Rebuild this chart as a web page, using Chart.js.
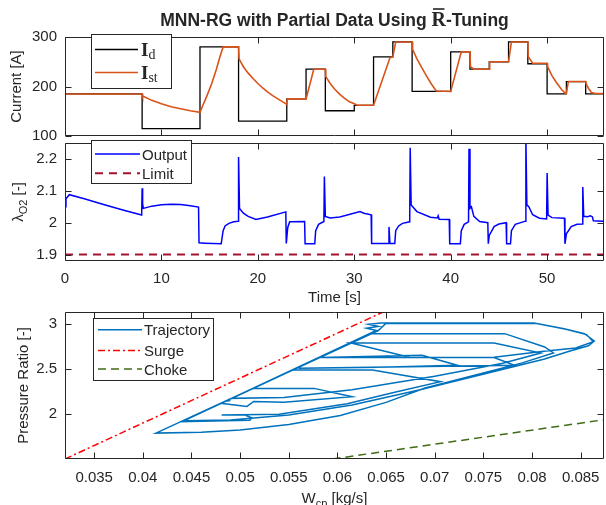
<!DOCTYPE html>
<html>
<head>
<meta charset="utf-8">
<script src="https://cdn.jsdelivr.net/npm/chart.js@4.4.1/dist/chart.umd.min.js"></script>
<style>
  html, body { margin: 0; padding: 0; background: #fff; }
  #wrap { position: relative; width: 606px; height: 505px; overflow: hidden; }
  canvas { position: absolute; left: 0; }
</style>
</head>
<body>
<div id="wrap">
  <canvas id="cur" width="606" height="140" style="top:0px"></canvas>
  <canvas id="lam" width="606" height="167" style="top:138px"></canvas>
  <canvas id="map" width="606" height="200" style="top:305px"></canvas>
</div>
<script>
// ---- current demand / stack current (top panel)
const timeD    = [0, 8, 14, 18, 23, 25, 27, 30, 32, 34, 36, 40, 42, 44, 46, 48, 50, 52, 54, 56];
const currentD = [185, 115, 280, 130, 175, 235, 151, 162, 260, 290, 190, 270, 235, 250, 290, 246, 185, 210, 185, 185];

const timeSt = [0, 8, 8.05, 9, 10, 11, 12, 13, 14,
  14.3, 14.7, 15.2, 15.7, 16.1, 16.4,
  18, 18.05, 18.5, 19, 19.5, 20, 20.5, 21, 21.5, 22, 22.5, 23,
  23.05, 25, 25.8, 27,
  27.05, 27.5, 28, 28.5, 29, 29.5, 30, 30.3, 32,
  33.7, 34, 34.3, 36,
  36.05, 36.5, 37, 37.5, 38, 38.5, 40,
  41.1, 42, 42.05, 42.4, 44,
  44.05, 46, 46.3, 48,
  48.05, 48.5, 50,
  50.05, 50.5, 51, 51.5, 51.9, 52,
  52.2, 54,
  54.05, 54.3, 54.6, 55, 56];
const currentSt = [185, 185, 181, 172, 165, 159, 155, 151, 148,
  162, 180, 205, 235, 262, 280,
  280, 256, 240, 227, 216, 206, 197, 189, 182, 176, 170, 164,
  175, 175, 235, 235,
  220, 206, 194, 184, 176, 169, 165, 162, 162,
  258, 260, 290, 290,
  275, 256, 238, 221, 205, 191, 190,
  270, 270, 240, 235, 235,
  250, 250, 290, 290,
  260, 247, 247,
  240, 222, 207, 194, 186, 186,
  210, 210,
  205, 196, 188, 186, 186];

// ---- oxygen excess ratio (middle panel)
const timeL = [
  0, 0.1, 0.45, 2, 4, 6, 7.95, 8.0,
  8.05, 8.12, 9, 10, 11, 12, 13, 13.85,
  13.9, 14.5, 16.2, 16.4, 16.6, 17, 17.5, 17.95,
  18.0, 18.1, 18.5, 19, 19.8, 21, 22.9, 22.95,
  23.1, 23.3, 24.85, 24.9, 25.9, 26.0, 26.3, 26.85,
  26.9, 27.0, 27.5, 28.5, 30.6, 31, 31.75, 31.8,
  33.5, 33.6, 33.7, 34.2, 34.3, 34.6, 35, 35.75,
  35.8, 35.9, 36.5, 37.9, 38.6, 38.7, 38.8, 39.85,
  39.9, 41.0, 41.1, 41.4, 41.85, 41.9, 42.0, 42.15,
  42.4, 43, 43.85, 43.9, 44.0, 44.5, 45, 45.75,
  45.8, 46.2, 46.3, 46.7, 47.75, 47.8, 47.9, 48.1,
  48.5, 49.2, 49.95, 50.0, 50.1, 50.5, 51.8, 51.85,
  52.0, 52.5, 53.1, 53.65, 53.7, 53.8, 54.2, 54.5,
  54.7, 54.8, 55.7, 56];
const lambdaOut = [
  2.050, 2.075, 2.088, 2.075, 2.057, 2.040, 2.024, 2.108,
  2.060, 2.045, 2.052, 2.056, 2.058, 2.057, 2.053, 2.049,
  1.937, 1.936, 1.934, 1.975, 1.990, 1.998, 2.003, 2.005,
  2.206, 2.045, 2.030, 2.020, 2.010, 2.018, 2.034, 1.935,
  1.985, 2.003, 2.004, 1.934, 1.934, 1.975, 1.995, 2.004,
  2.145, 2.020, 2.015, 2.018, 2.035, 2.030, 2.025, 1.935,
  1.935, 1.987, 1.935, 1.935, 1.975, 1.990, 1.998, 2.003,
  2.235, 2.056, 2.035, 2.017, 2.015, 2.022, 2.011, 2.010,
  1.934, 1.934, 1.975, 1.995, 2.003, 2.232, 2.045, 2.050,
  2.020, 2.004, 2.000, 1.934, 1.960, 1.988, 1.996, 2.000,
  1.934, 1.934, 1.975, 1.995, 2.005, 2.260, 2.056, 2.050,
  2.025, 2.014, 2.012, 2.156, 2.024, 2.016, 2.014, 1.934,
  1.965, 1.988, 1.995, 1.996, 2.112, 2.020, 2.019, 2.022,
  2.018, 2.006, 2.005, 2.004];
const limitT = [0, 56];
const limitVal = [1.9, 1.9];

// ---- compressor map (bottom panel)
const trajW = [
  0.0483, 0.04135, 0.0460, 0.0500, 0.0550, 0.0603, 0.0650, 0.0690,
  0.0740, 0.0790, 0.0822, 0.0813, 0.0772, 0.0635, 0.0439, 0.0510,
  0.0512, 0.0505, 0.0481, 0.0540, 0.0610, 0.0660, 0.0706, 0.0636,
  0.0554, 0.0442, 0.0490, 0.0550, 0.0615, 0.0685, 0.0760, 0.0812,
  0.0840, 0.0858, 0.0864, 0.0854, 0.0833, 0.0802, 0.0645, 0.0632,
  0.0642, 0.0630, 0.0640, 0.0491, 0.0545, 0.0615, 0.0700, 0.0770,
  0.0809, 0.0761, 0.0614, 0.0675, 0.0582, 0.0687, 0.0723, 0.0644,
  0.0560, 0.0782, 0.0761, 0.0584, 0.0761, 0.0812, 0.0845, 0.0863,
  0.0856, 0.0835, 0.0805, 0.0650, 0.0642, 0.0480, 0.0507, 0.0514,
  0.0545, 0.0615, 0.0576, 0.0513, 0.0484, 0.0490];
const trajPR = [
  2.135, 1.788, 1.798, 1.822, 1.885, 1.985, 2.130, 2.290,
  2.430, 2.570, 2.680, 2.747, 2.895, 2.895, 1.915, 1.930,
  1.958, 1.990, 1.990, 1.998, 2.115, 2.245, 2.360, 2.490,
  2.490, 1.925, 1.935, 1.990, 2.100, 2.270, 2.470, 2.610,
  2.705, 2.760, 2.813, 2.895, 2.950, 3.013, 3.013, 3.000,
  2.975, 2.955, 2.930, 2.175, 2.185, 2.270, 2.420, 2.565,
  2.680, 2.790, 2.790, 2.630, 2.630, 2.655, 2.544, 2.520,
  2.510, 2.544, 2.630, 2.630, 2.632, 2.700, 2.735, 2.805,
  2.885, 2.945, 3.008, 3.012, 2.930, 2.120, 2.085, 2.140,
  2.132, 2.193, 2.286, 2.286, 2.140, 2.150];
const surgeW = [0.032, 0.0647];
const surgePR = [1.5, 3.136];
const chokeW = [0.0595, 0.0874];
const chokePR = [1.5, 1.937];

// ---- ticks
const currentTicks = [100, 200, 300];
const currentTickText = ['100', '200', '300'];
const timeTicks = [0, 10, 20, 30, 40, 50];
const timeTickText = ['0', '10', '20', '30', '40', '50'];
const lambdaTicks = [1.9, 2, 2.1, 2.2];
const lambdaTickText = ['1.9', '2', '2.1', '2.2'];
const wTicks = [0.035, 0.04, 0.045, 0.05, 0.055, 0.06, 0.065, 0.07, 0.075, 0.08, 0.085];
const wTickText = ['0.035', '0.04', '0.045', '0.05', '0.055', '0.06', '0.065', '0.07', '0.075', '0.08', '0.085'];
const prTicks = [2, 2.5, 3];
const prTickText = ['2', '2.5', '3'];

const FONT = '"Liberation Sans", Arial, Helvetica, sans-serif';
const SERIF = '"Liberation Serif", "Times New Roman", serif';
const TXT = '#262626';
Chart.defaults.font.family = FONT;
Chart.defaults.font.size = 15;
Chart.defaults.color = TXT;

function pts(xs, ys) { return xs.map((x, i) => ({ x: x, y: ys[i] })); }

function line(label, xs, ys, color, width, extra) {
  return Object.assign({
    label: label, data: pts(xs, ys), borderColor: color, backgroundColor: color,
    borderWidth: width, pointRadius: 0, fill: false, tension: 0
  }, extra || {});
}

function axis(min, max, vals, text, size, showLabels, pad) {
  return {
    type: 'linear', min: min, max: max,
    grid: { display: false, drawTicks: false },
    border: { display: false },
    afterBuildTicks: s => { s.ticks = vals.map(v => ({ value: v })); },
    afterFit: s => {
      if (s.isHorizontal()) s.height = size; else s.width = size;
      // labels at the ends must not shrink the plot box
      s.paddingTop = 0; s.paddingBottom = 0; s.paddingLeft = 0; s.paddingRight = 0;
    },
    ticks: { display: showLabels, padding: pad, autoSkip: false, maxRotation: 0,
      color: TXT, font: { size: 15 }, callback: (v, i) => text[i] }
  };
}

// draw a run of text pieces (subscripts, serif letters, bar accent)
function drawRich(ctx, segs, x, y, rot, base, align) {
  ctx.save();
  ctx.translate(x, y);
  if (rot) ctx.rotate(-Math.PI / 2);
  ctx.textBaseline = 'alphabetic';
  ctx.textAlign = 'left';
  let total = 0;
  const parts = segs.map(s => {
    const font = s.font || (s.sub ? '11px ' + FONT : '15px ' + FONT);
    ctx.font = font;
    const w = ctx.measureText(s.t).width;
    total += w;
    return { s: s, font: font, w: w };
  });
  let cx = align === 'left' ? 0 : -total / 2;
  const b = base === undefined ? 5.5 : base;
  parts.forEach(p => {
    ctx.font = p.font;
    ctx.fillStyle = TXT;
    const dy = b + (p.s.dy !== undefined ? p.s.dy : (p.s.sub ? 4 : 0));
    ctx.fillText(p.s.t, cx, dy);
    if (p.s.bar) {
      ctx.strokeStyle = TXT;
      ctx.lineWidth = 1.6;
      ctx.beginPath();
      ctx.moveTo(cx + 1.5, dy - p.s.bar);
      ctx.lineTo(cx + p.w - 1.5, dy - p.s.bar);
      ctx.stroke();
    }
    cx += p.w;
  });
  ctx.restore();
}

// box with inward ticks on all four sides
const frame = {
  id: 'frame',
  afterDatasetsDraw(chart) {
    const { ctx, chartArea: a, scales } = chart;
    const L = a.left + 0.5, R = a.right - 0.5, T = a.top + 0.5, B = a.bottom - 0.5;
    ctx.save();
    ctx.strokeStyle = TXT;
    ctx.lineWidth = 1;
    ctx.setLineDash([]);
    ctx.beginPath();
    ctx.rect(L, T, R - L, B - T);
    scales.x.ticks.forEach(t => {
      const p = Math.round(scales.x.getPixelForValue(t.value)) + 0.5;
      ctx.moveTo(p, B); ctx.lineTo(p, B - 6);
      ctx.moveTo(p, T); ctx.lineTo(p, T + 6);
    });
    scales.y.ticks.forEach(t => {
      const p = Math.round(scales.y.getPixelForValue(t.value)) + 0.5;
      ctx.moveTo(L, p); ctx.lineTo(L + 6, p);
      ctx.moveTo(R, p); ctx.lineTo(R - 6, p);
    });
    ctx.stroke();
    ctx.restore();
  }
};

const boxLegend = {
  id: 'boxLegend',
  afterDraw(chart, args, o) {
    if (!o.box) return;
    const ctx = chart.ctx, b = o.box;
    ctx.save();
    ctx.fillStyle = '#fff';
    ctx.fillRect(b.x, b.y, b.w, b.h);
    ctx.strokeStyle = TXT;
    ctx.lineWidth = 1;
    ctx.strokeRect(b.x + 0.5, b.y + 0.5, b.w, b.h);
    chart.data.datasets.forEach((ds, i) => {
      const y = b.y + o.rows[i];
      ctx.strokeStyle = ds.borderColor;
      ctx.lineWidth = ds.borderWidth;
      ctx.setLineDash(ds.borderDash || []);
      ctx.beginPath();
      ctx.moveTo(b.x + o.lineX[0], y);
      ctx.lineTo(b.x + o.lineX[1], y);
      ctx.stroke();
      ctx.setLineDash([]);
      const segs = o.labels ? o.labels[i] : [{ t: ds.label }];
      drawRich(ctx, segs, b.x + o.textX, y, false, o.base, 'left');
    });
    ctx.restore();
  }
};

const richText = {
  id: 'richText',
  afterDraw(chart, args, o) {
    (o.items || []).forEach(it => drawRich(chart.ctx, it.segs, it.x, it.y, it.rot, it.base));
  }
};

const panelPlugins = [frame, boxLegend, richText];

function options(xAxis, yAxis, padTop, plug) {
  return {
    responsive: false, animation: false, devicePixelRatio: 1,
    layout: { autoPadding: false, padding: { left: 0, right: 2, top: padTop, bottom: 0 } },
    scales: { x: xAxis, y: yAxis },
    plugins: Object.assign({ legend: { display: false }, tooltip: { enabled: false } }, plug)
  };
}

// ---- top: current
new Chart(document.getElementById('cur'), {
  type: 'line',
  plugins: panelPlugins,
  data: { datasets: [
    line('I_d', timeD, currentD, '#000000', 1.3, { stepped: 'before', order: 1 }),
    line('I_st', timeSt, currentSt, '#D95319', 1.6, { order: 0 })
  ] },
  options: options(
    axis(0, 55.9, timeTicks, timeTickText, 4, false, 0),
    axis(100, 300, currentTicks, currentTickText, 65, true, 8),
    37,
    {
      boxLegend: {
        box: { x: 91, y: 34, w: 80, h: 54 }, rows: [15.5, 38.5], lineX: [4, 47], textX: 50, base: 6.5,
        labels: [
          [{ t: 'I', font: 'bold 19px ' + SERIF }, { t: 'd', font: '14px ' + SERIF, dy: 3 }],
          [{ t: 'I', font: 'bold 19px ' + SERIF }, { t: 'st', font: '14px ' + SERIF, dy: 3 }]
        ]
      },
      richText: { items: [
        { segs: [{ t: 'Current [A]' }], x: 15, y: 86.5, rot: true },
        { segs: [
            { t: 'MNN-RG with Partial Data Using ', font: 'bold 17.5px ' + FONT },
            { t: 'R', font: 'bold 20px ' + SERIF, bar: 16.5 },
            { t: '-Tuning', font: 'bold 17.5px ' + FONT }
          ], x: 334.5, y: 19, base: 6.5 }
      ] }
    })
});

// ---- middle: oxygen excess ratio
new Chart(document.getElementById('lam'), {
  type: 'line',
  plugins: panelPlugins,
  data: { datasets: [
    line('Output', timeL, lambdaOut, '#0000FF', 1.5),
    line('Limit', limitT, limitVal, '#A2142F', 2, { borderDash: [8, 6] })
  ] },
  options: options(
    axis(0, 55.9, timeTicks, timeTickText, 44, true, 9),
    axis(1.88, 2.25, lambdaTicks, lambdaTickText, 65, true, 8),
    5,
    {
      boxLegend: {
        box: { x: 91, y: 2, w: 100, h: 43 }, rows: [14, 33.3], lineX: [4, 49], textX: 51
      },
      richText: { items: [
        { segs: [{ t: '\u03bb' }, { t: 'O2', sub: true }, { t: ' [-]' }], x: 17, y: 64, rot: true },
        { segs: [{ t: 'Time [s]' }], x: 334.5, y: 158 }
      ] }
    })
});

// ---- bottom: compressor map
new Chart(document.getElementById('map'), {
  type: 'line',
  plugins: panelPlugins,
  data: { datasets: [
    line('Trajectory', trajW, trajPR, '#0072BD', 1.5),
    line('Surge', surgeW, surgePR, '#FF0000', 1.5, { borderDash: [7, 3, 2, 3] }),
    line('Choke', chokeW, chokePR, '#3F6B17', 1.5, { borderDash: [8, 5] })
  ] },
  options: options(
    axis(0.032, 0.0874, wTicks, wTickText, 46, true, 10),
    axis(1.5, 3.136, prTicks, prTickText, 65, true, 8),
    7,
    {
      boxLegend: {
        box: { x: 93, y: 13, w: 120, h: 62 }, rows: [11.7, 32.4, 51], lineX: [5, 49], textX: 51
      },
      richText: { items: [
        { segs: [{ t: 'Pressure Ratio [-]' }], x: 22, y: 80.5, rot: true },
        { segs: [{ t: 'W' }, { t: 'cp', sub: true }, { t: ' [kg/s]' }], x: 334.5, y: 192 }
      ] }
    })
});
</script>
</body>
</html>
